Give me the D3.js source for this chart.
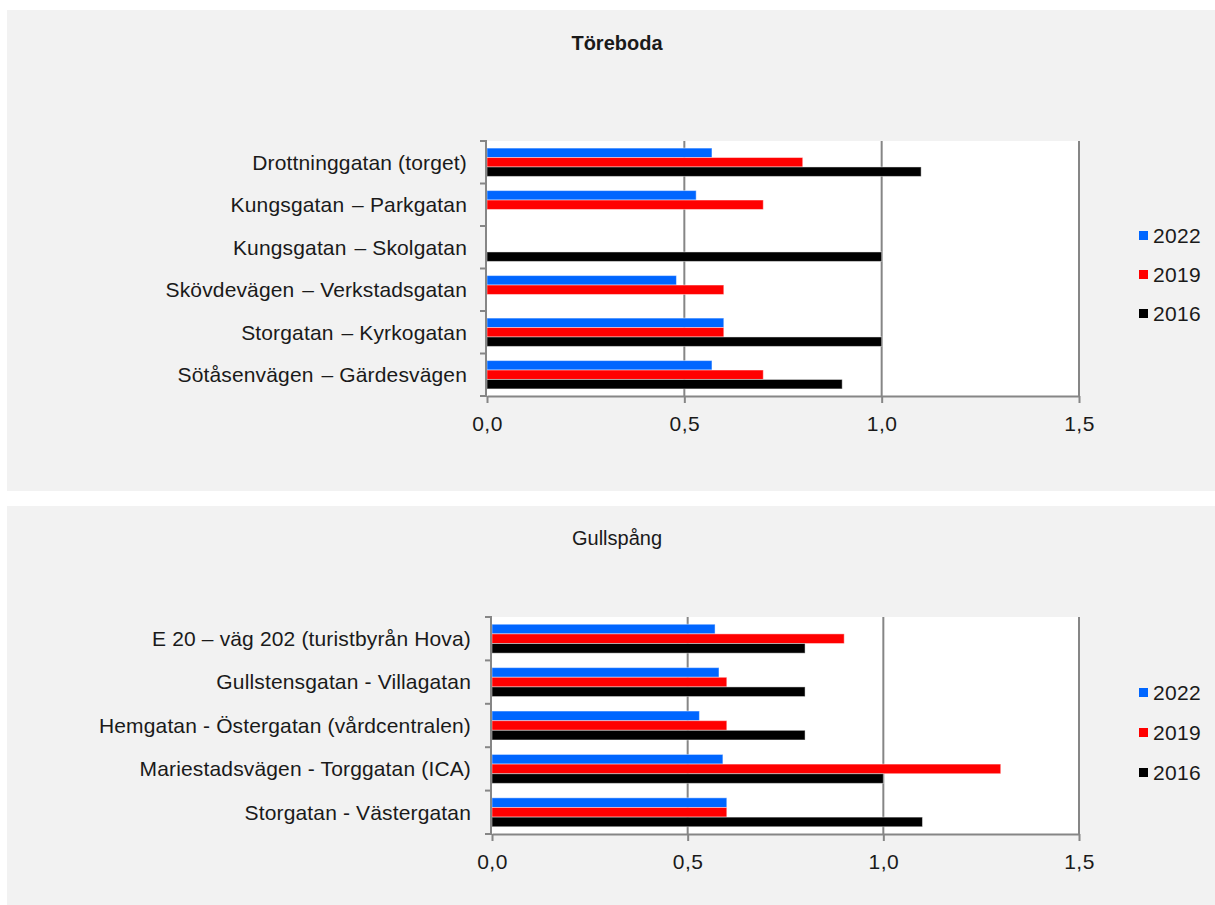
<!DOCTYPE html>
<html>
<head>
<meta charset="utf-8">
<script src="https://cdn.jsdelivr.net/npm/d3@7/dist/d3.min.js"></script>
<style>
  html, body { margin: 0; padding: 0; background: #ffffff; }
  text { font-family: "Liberation Sans", Arial, sans-serif; fill: #1a1a1a; white-space: pre; }
</style>
</head>
<body>
<svg id="chart" width="1215" height="905"></svg>
<script>
// ---------- DATA ----------
const seriesNames = ["2022", "2019", "2016"];
const seriesColors = ["#0066ff", "#ff0000", "#000000"];
const xTicks = [0, 0.5, 1.0, 1.5];

const toreTitle = "Töreboda";
const toreCategories = [
  "Drottninggatan (torget)",
  "Kungsgatan\u200A – Parkgatan",
  "Kungsgatan\u200A – Skolgatan",
  "Skövdevägen\u200A – Verkstadsgatan",
  "Storgatan\u200A – Kyrkogatan",
  "Sötåsenvägen\u200A – Gärdesvägen"
];
const toreValues2022 = [0.57, 0.53, null, 0.48, 0.60, 0.57];
const toreValues2019 = [0.80, 0.70, null, 0.60, 0.60, 0.70];
const toreValues2016 = [1.10, null, 1.00, null, 1.00, 0.90];

const gullTitle = "Gullspång";
const gullCategories = [
  "E 20 – väg 202 (turistbyrån Hova)",
  "Gullstensgatan - Villagatan",
  "Hemgatan - Östergatan (vårdcentralen)",
  "Mariestadsvägen - Torggatan (ICA)",
  "Storgatan - Västergatan"
];
const gullValues2022 = [0.57, 0.58, 0.53, 0.59, 0.60];
const gullValues2019 = [0.90, 0.60, 0.60, 1.30, 0.60];
const gullValues2016 = [0.80, 0.80, 0.80, 1.00, 1.10];

// ---------- DRAW ----------
const svg = d3.select("#chart");
const GRID = "#868686";

function drawPanel(cfg) {
  const g = svg.append("g");
  g.append("rect")
    .attr("x", cfg.panel.x).attr("y", cfg.panel.y)
    .attr("width", cfg.panel.w).attr("height", cfg.panel.h)
    .attr("fill", "#f2f2f2");

  g.append("text")
    .attr("x", 617).attr("y", cfg.titleY)
    .attr("text-anchor", "middle")
    .style("font-size", "20px")
    .style("font-weight", cfg.titleBold ? "bold" : "normal")
    .text(cfg.title);

  const p = cfg.plot;
  const x = d3.scaleLinear().domain([0, 1.5]).range([p.left, p.right]);
  const y = d3.scaleBand().domain(cfg.categories).range([p.top, p.bottom]).paddingInner(0).paddingOuter(0);
  const ys = d3.scaleBand().domain(seriesNames).range([0, y.bandwidth()]).paddingInner(0).paddingOuter(0.75);

  // plot area
  g.append("rect")
    .attr("x", p.left).attr("y", p.top)
    .attr("width", p.right - p.left).attr("height", p.bottom - p.top)
    .attr("fill", "#ffffff");

  // vertical gridlines
  g.selectAll(".grid").data(xTicks.filter(t => t > 0)).enter()
    .append("line")
    .attr("x1", d => x(d)).attr("x2", d => x(d))
    .attr("y1", p.top).attr("y2", p.bottom)
    .attr("stroke", GRID).attr("stroke-width", 2);

  // bars
  const rows = [];
  cfg.categories.forEach((c, i) => {
    cfg.values.forEach((arr, s) => {
      if (arr[i] != null) rows.push({ cat: c, s: seriesNames[s], v: arr[i], color: seriesColors[s] });
    });
  });
  g.selectAll(".bar").data(rows).enter()
    .append("rect")
    .attr("x", x(0))
    .attr("y", d => y(d.cat) + ys(d.s))
    .attr("width", d => x(d.v) - x(0))
    .attr("height", ys.bandwidth())
    .attr("fill", d => d.color)
    .attr("stroke", "rgba(255,255,255,0.45)")
    .attr("stroke-width", 1);

  // left axis line and boundary ticks
  g.append("line")
    .attr("x1", p.left - 1).attr("x2", p.left - 1)
    .attr("y1", p.top).attr("y2", p.bottom)
    .attr("stroke", GRID).attr("stroke-width", 2);
  const bounds = cfg.categories.map(c => y(c)).concat([p.bottom]);
  g.selectAll(".ltick").data(bounds).enter()
    .append("line")
    .attr("x1", p.left - 7).attr("x2", p.left)
    .attr("y1", d => d).attr("y2", d => d)
    .attr("stroke", GRID).attr("stroke-width", 2);

  // category labels
  g.selectAll(".clab").data(cfg.categories).enter()
    .append("text")
    .attr("x", p.left - cfg.labelGap)
    .attr("y", d => y(d) + y.bandwidth() / 2)
    .attr("dy", "0.35em")
    .attr("text-anchor", "end")
    .style("font-size", "21px")
    .style("letter-spacing", "0.15px")
    .text(d => d);

  // bottom axis
  const axis = d3.axisBottom(x)
    .tickValues(xTicks)
    .tickSize(7)
    .tickSizeOuter(0)
    .tickPadding(13)
    .tickFormat(d => d3.format(".1f")(d).replace(".", ","));
  const ax = g.append("g").attr("transform", `translate(0,${p.bottom})`).call(axis);
  ax.select(".domain").attr("stroke", GRID).attr("stroke-width", 2);
  ax.selectAll(".tick line").attr("stroke", GRID).attr("stroke-width", 2);
  ax.selectAll(".tick text")
    .style("font-size", "21px")
    .style("letter-spacing", "0.5px")
    .style("font-family", "'Liberation Sans', Arial, sans-serif")
    .attr("fill", "#1a1a1a");

  // legend
  const lg = g.append("g");
  seriesNames.forEach((s, i) => {
    const yy = cfg.legendY + i * cfg.legendStep;
    lg.append("rect")
      .attr("x", 1139).attr("y", yy - 12)
      .attr("width", 9).attr("height", 9)
      .attr("fill", seriesColors[i]);
    lg.append("text")
      .attr("x", 1153).attr("y", yy)
      .style("font-size", "21px")
      .style("letter-spacing", "0.3px")
      .text(s);
  });
}

drawPanel({
  panel: { x: 7, y: 10, w: 1208, h: 481 },
  title: toreTitle, titleBold: true, titleY: 50,
  plot: { left: 487, right: 1079, top: 141, bottom: 396 },
  categories: toreCategories,
  values: [toreValues2022, toreValues2019, toreValues2016],
  labelGap: 20,
  legendY: 243, legendStep: 39
});

drawPanel({
  panel: { x: 7, y: 506, w: 1208, h: 399 },
  title: gullTitle, titleBold: false, titleY: 545,
  plot: { left: 492, right: 1079, top: 617, bottom: 834 },
  categories: gullCategories,
  values: [gullValues2022, gullValues2019, gullValues2016],
  labelGap: 21,
  legendY: 700, legendStep: 40
});
</script>
</body>
</html>
